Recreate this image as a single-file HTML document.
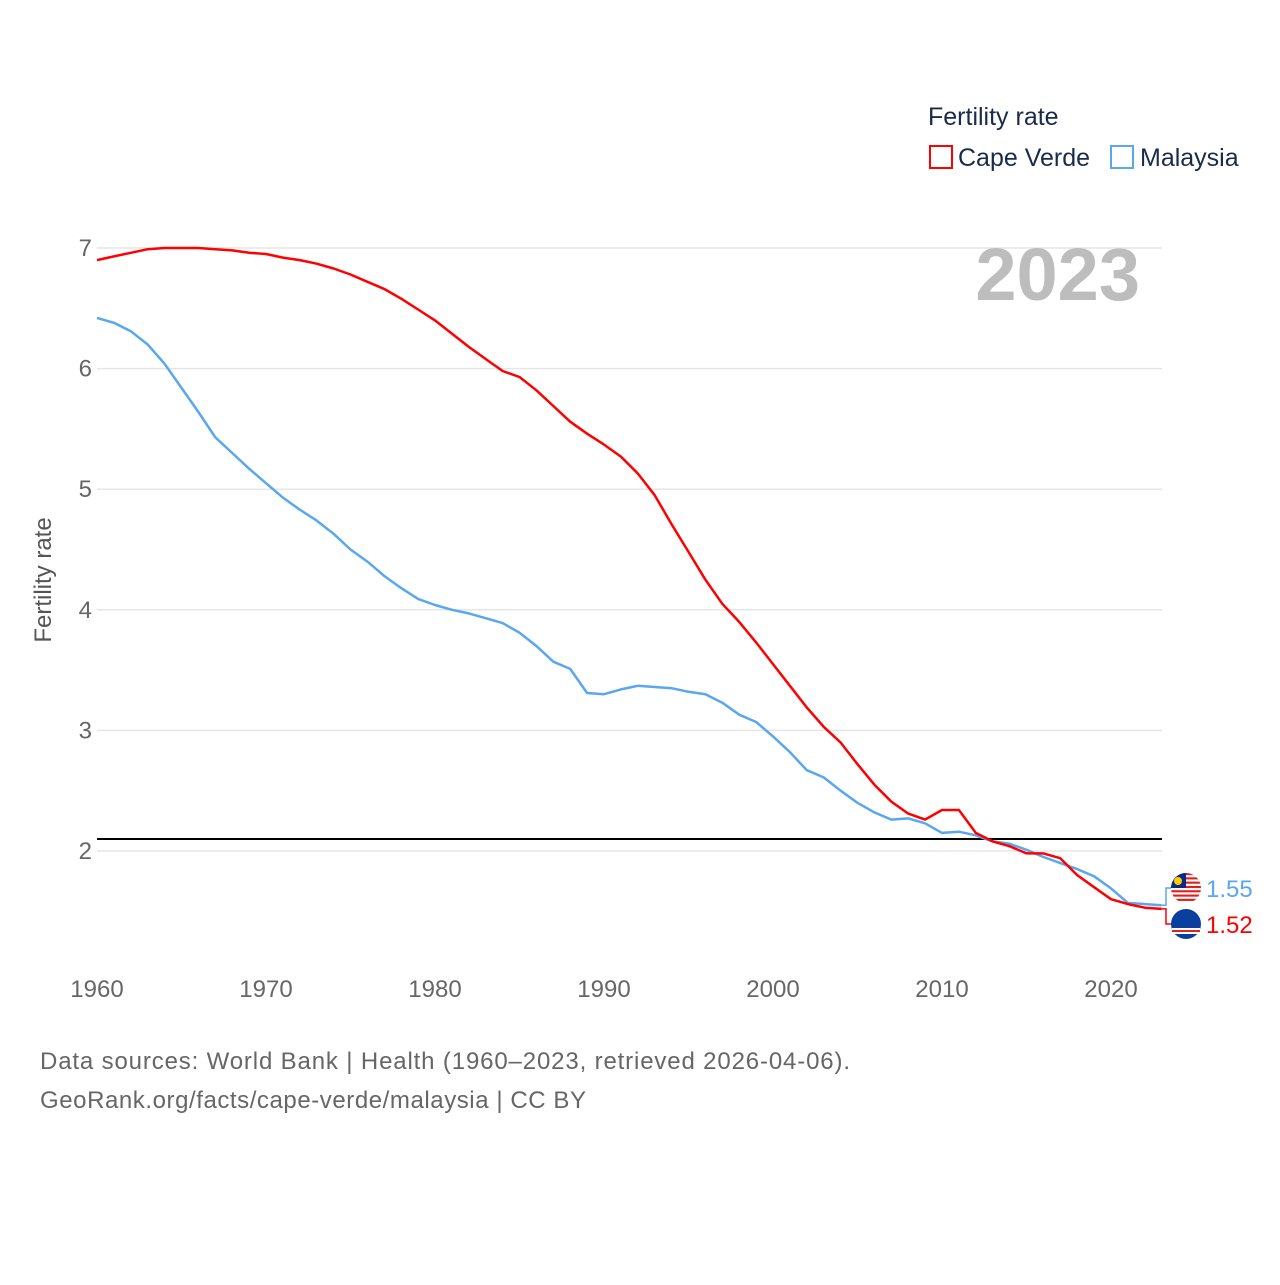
<!DOCTYPE html>
<html><head><meta charset="utf-8"><style>
body{margin:0;background:#fff;font-family:"Liberation Sans",sans-serif}
svg text{font-family:"Liberation Sans",sans-serif}
</style></head><body>
<svg id="chart" width="1280" height="1280">
<g id="grid"></g>
<line x1="97" x2="1162" y1="839" y2="839" stroke="#000" stroke-width="2"/>
<g id="series"></g>
<g id="ticks"></g>
<text x="51" y="580" transform="rotate(-90 51 580)" text-anchor="middle" font-size="24" fill="#555">Fertility rate</text>
<text x="1140" y="300" text-anchor="end" font-size="74" font-weight="bold" fill="#bdbdbd">2023</text>
<text x="928" y="125" font-size="25" fill="#1a2a4a">Fertility rate</text>
<g><rect x="930" y="146" width="22" height="22" fill="none" stroke="#f00" stroke-width="2"/><text x="958" y="166" font-size="25" fill="#1a2a4a">Cape Verde</text></g>
<g><rect x="1111" y="146" width="22" height="22" fill="none" stroke="#5aa7ee" stroke-width="2"/><text x="1140" y="166" font-size="25" fill="#1a2a4a">Malaysia</text></g>
<g id="ends"></g>
<text x="40" y="1069" font-size="24" fill="#666" textLength="810">Data sources: World Bank | Health (1960–2023, retrieved 2026-04-06).</text>
<text x="40" y="1108" font-size="24" fill="#666" textLength="546">GeoRank.org/facts/cape-verde/malaysia | CC BY</text>
</svg>
<script>
const years=[];for(let y=1960;y<=2023;y++)years.push(y);
const capeVerde=[6.90,6.93,6.96,6.99,7.00,7.00,7.00,6.99,6.98,6.96,6.95,6.92,6.90,6.87,6.83,6.78,6.72,6.66,6.58,6.49,6.40,6.29,6.18,6.08,5.98,5.93,5.82,5.69,5.56,5.46,5.37,5.27,5.13,4.95,4.71,4.48,4.25,4.05,3.90,3.73,3.55,3.37,3.19,3.03,2.90,2.72,2.55,2.41,2.31,2.26,2.34,2.34,2.15,2.08,2.04,1.98,1.98,1.94,1.80,1.70,1.60,1.56,1.53,1.52];
const malaysia=[6.42,6.38,6.31,6.20,6.04,5.84,5.64,5.43,5.30,5.17,5.05,4.93,4.83,4.74,4.63,4.50,4.40,4.28,4.18,4.09,4.04,4.00,3.97,3.93,3.89,3.81,3.70,3.57,3.51,3.31,3.30,3.34,3.37,3.36,3.35,3.32,3.30,3.23,3.13,3.07,2.95,2.82,2.67,2.61,2.50,2.40,2.32,2.26,2.27,2.23,2.15,2.16,2.13,2.08,2.06,2.01,1.95,1.90,1.85,1.79,1.69,1.57,1.56,1.55];
const yTicks=[2,3,4,5,6,7];
const xTicks=[1960,1970,1980,1990,2000,2010,2020];
const X=y=>97+(y-1960)*16.9;
const Y=v=>851-(v-2)*120.6;
const NS="http://www.w3.org/2000/svg";
function mk(t,a,p){const e=document.createElementNS(NS,t);for(const k in a)e.setAttribute(k,a[k]);p.appendChild(e);return e;}
const grid=document.getElementById('grid'),ticks=document.getElementById('ticks'),series=document.getElementById('series'),ends=document.getElementById('ends');
yTicks.forEach(v=>{
 const l=mk('line',{x1:97,x2:1162,y1:Y(v),y2:Y(v),stroke:'#e6e6e6','stroke-width':1.5},grid);
 
 
 const t=mk('text',{x:92,y:Y(v)+8,'text-anchor':'end','font-size':24,fill:'#666'},ticks);t.textContent=v;
 
 
});
xTicks.forEach(v=>{
 const t=mk('text',{x:X(v),y:997,'text-anchor':'middle','font-size':24,fill:'#666'},ticks);t.textContent=v;
 
 
});
function line(d,c,n){
 const p=mk('path',{d:d.map((v,i)=>(i?'L':'M')+X(years[i]).toFixed(1)+','+Y(v).toFixed(1)).join(''),fill:'none',stroke:c,'stroke-width':2.5,'stroke-linejoin':'round'},series);
 
 
}
line(malaysia,'#5aa7ee','malaysia-line');
line(capeVerde,'#f00','cape-verde-line');
function endLabel(v,c,fy,n,flag){
 const x0=X(years[years.length-1]),y0=Y(v);
 mk('path',{d:`M${x0},${y0}H1166V${fy}H1172`,fill:'none',stroke:c,'stroke-width':1.5},ends);
 const g=mk('g',{},ends);
 
 
 if(flag==='my'){
  mk('clipPath',{id:'cm'},g).appendChild(mk('circle',{cx:1186,cy:fy,r:15},document.createElementNS(NS,'g')));
  mk('circle',{cx:1186,cy:fy,r:15,fill:'#fff'},g);
  for(let i=0;i<7;i++){mk('rect',{x:1171,y:fy-15+i*4.3,width:30,height:2.15,fill:'#d22','clip-path':'url(#cm)'},g);}
  mk('rect',{x:1171,y:fy-15,width:15,height:15,fill:'#0a2a8a','clip-path':'url(#cm)'},g);
  mk('circle',{cx:1178,cy:fy-7,r:4,fill:'#fc0'},g);
 }else{
  mk('circle',{cx:1186,cy:fy,r:15,fill:'#0a3fa0'},g);
  mk('rect',{x:1172,y:fy+4,width:28,height:2,fill:'#fff'},g);
  mk('rect',{x:1172,y:fy+6,width:28,height:2,fill:'#d22'},g);
  mk('rect',{x:1172,y:fy+8,width:28,height:2,fill:'#fff'},g);
 }
 const t=mk('text',{x:1206,y:fy+9,'font-size':24,fill:c},ends);t.textContent=v.toFixed(2);
 
 
}
endLabel(malaysia[malaysia.length-1],'#5aa7ee',888,'malaysia','my');
endLabel(capeVerde[capeVerde.length-1],'#f00',924,'cape-verde','cv');
</script>
</body></html>
